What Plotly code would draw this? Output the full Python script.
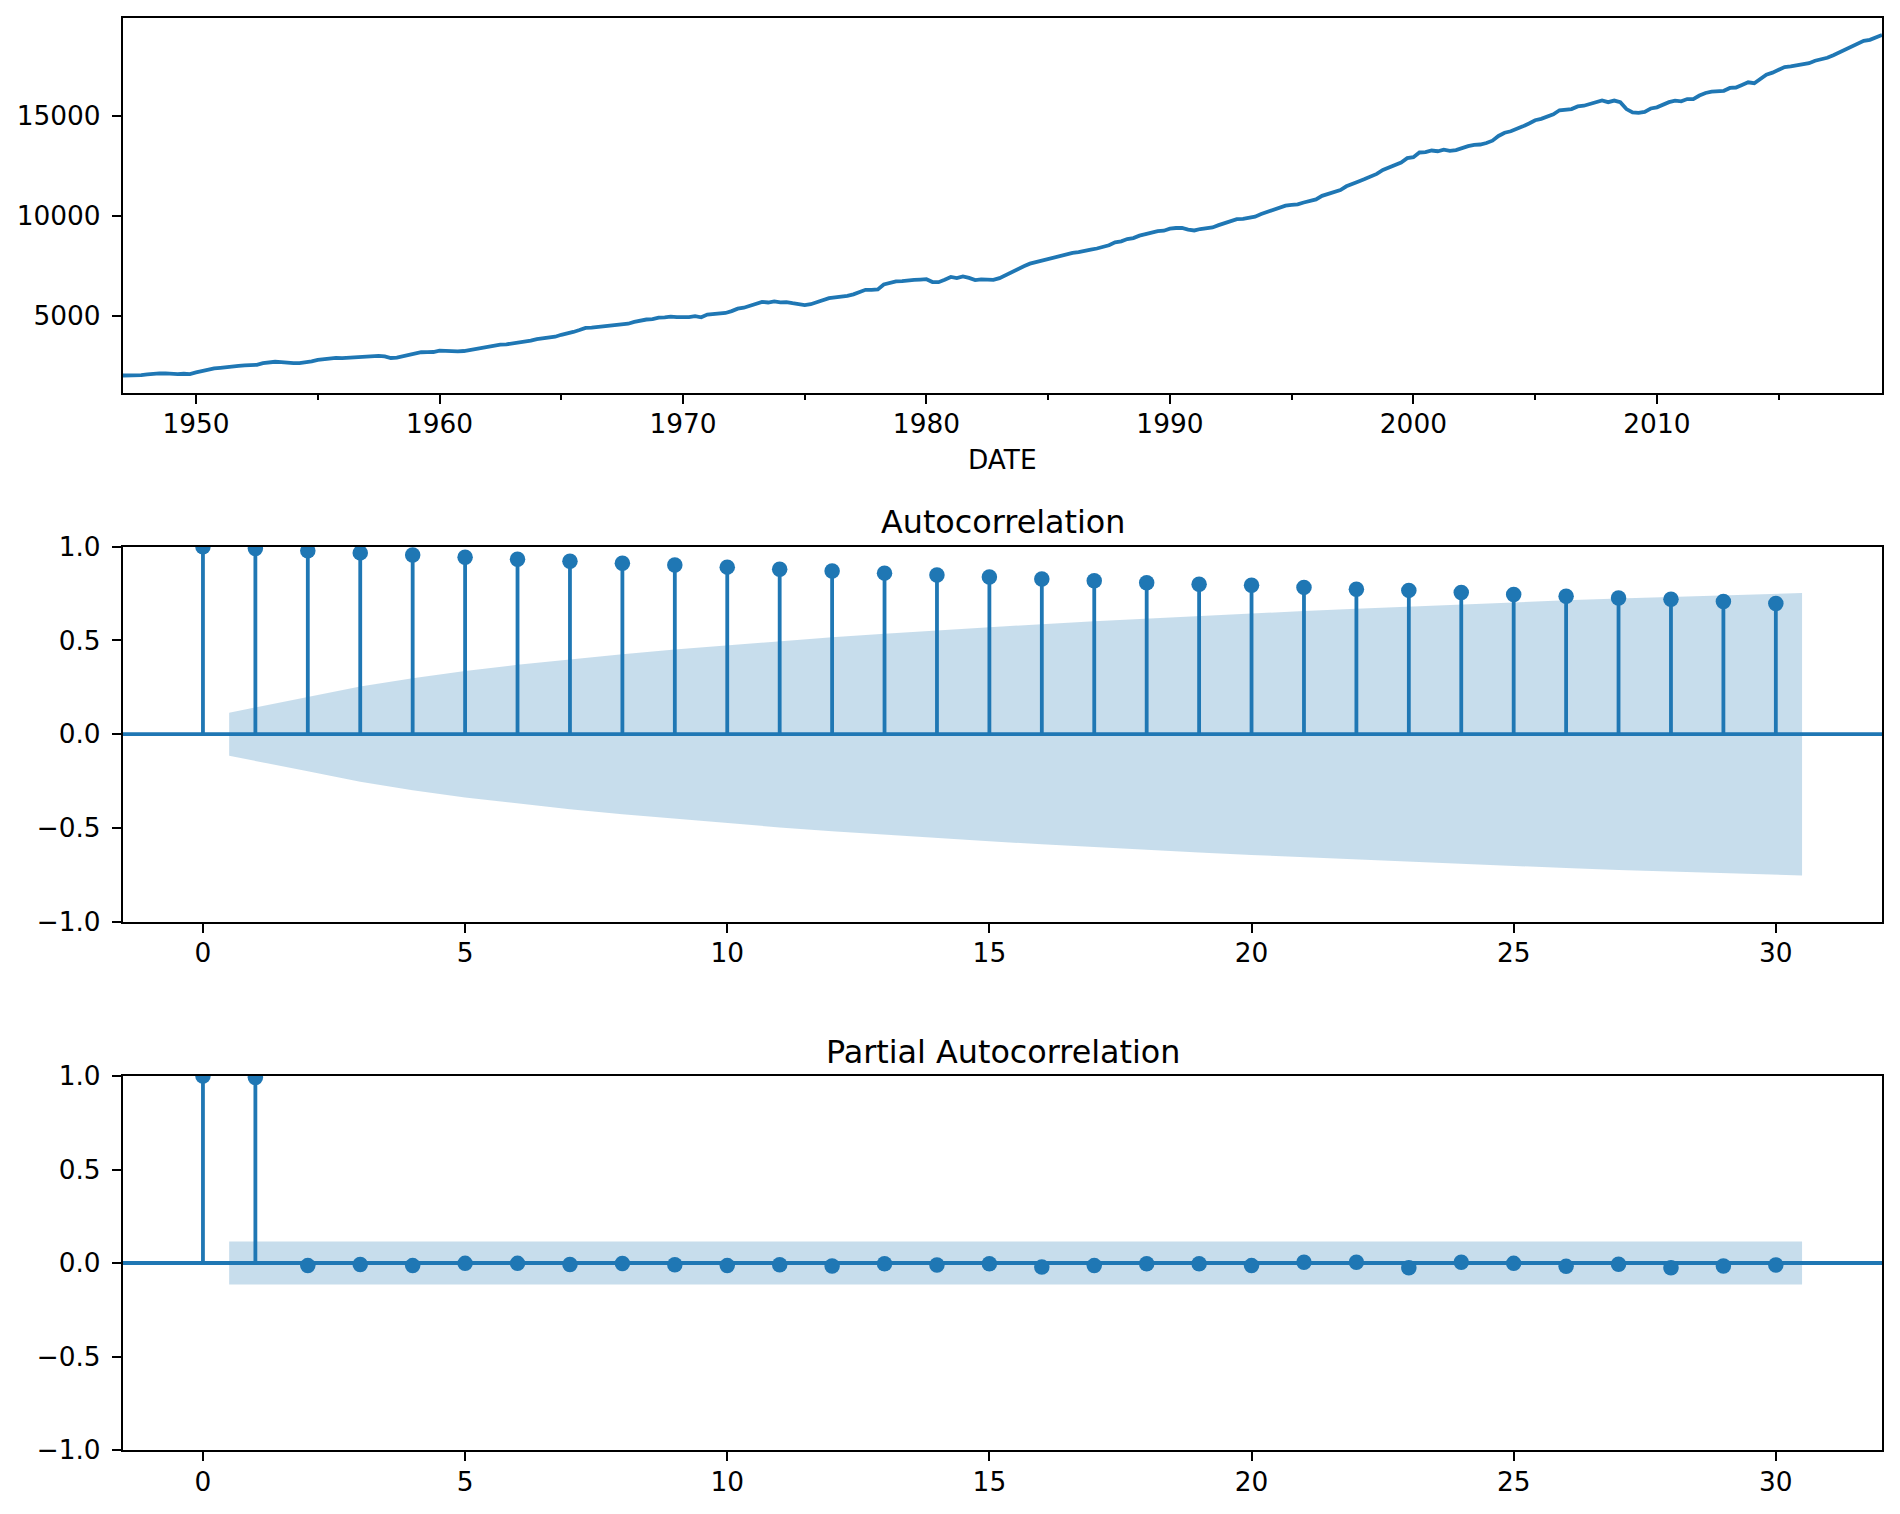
import pandas as pd
import plotly.graph_objects as go

# ---------------- data ----------------
gdp = [
    2033.1, 2027.6, 2023.5, 2055.1,   # 1947
    2086.0, 2120.4, 2132.6, 2134.0,   # 1948
    2105.6, 2098.4, 2120.0, 2102.3,   # 1949
    2184.9, 2251.5, 2338.5, 2383.2,   # 1950
    2415.6, 2457.5, 2508.2, 2513.7,   # 1951
    2540.6, 2546.0, 2564.4, 2648.6,   # 1952
    2697.9, 2718.7, 2703.4, 2662.5,   # 1953
    2649.8, 2652.6, 2683.8, 2735.1,   # 1954
    2813.2, 2858.8, 2897.6, 2914.4,   # 1955
    2903.7, 2927.7, 2925.0, 2973.1,   # 1956
    2992.0, 2985.7, 3014.0, 2983.3,   # 1957
    2906.3, 2925.4, 3000.2, 3083.0,   # 1958
    3121.9, 3192.4, 3194.7, 3203.8,   # 1959
    3275.8, 3258.1, 3274.0, 3232.0,   # 1960
    3253.8, 3309.1, 3372.6, 3438.7,   # 1961
    3500.1, 3531.7, 3575.1, 3586.8,   # 1962
    3625.3, 3666.7, 3747.3, 3771.8,   # 1963
    3851.4, 3893.3, 3954.1, 3966.3,   # 1964
    4062.3, 4113.6, 4205.1, 4301.3,   # 1965
    4406.7, 4421.8, 4459.0, 4495.7,   # 1966
    4535.6, 4538.4, 4581.3, 4615.9,   # 1967
    4709.9, 4788.7, 4825.8, 4844.3,   # 1968
    4920.7, 4935.6, 4968.0, 4943.9,   # 1969
    4936.6, 4943.6, 4989.2, 4935.7,   # 1970
    5069.7, 5097.2, 5139.1, 5151.2,   # 1971
    5245.0, 5365.0, 5415.7, 5506.4,   # 1972
    5642.7, 5704.1, 5674.1, 5727.0,   # 1973
    5678.7, 5692.2, 5638.4, 5616.5,   # 1974
    5548.2, 5587.8, 5683.4, 5759.0,   # 1975
    5889.5, 5932.7, 5965.3, 6008.5,   # 1976
    6079.5, 6197.7, 6309.5, 6309.7,   # 1977
    6329.8, 6574.4, 6640.5, 6729.8,   # 1978
    6741.9, 6749.1, 6799.2, 6816.2,   # 1979
    6837.6, 6696.8, 6688.8, 6813.5,   # 1980
    6947.0, 6895.6, 6978.1, 6902.1,   # 1981
    6794.9, 6825.9, 6799.8, 6802.5,   # 1982
    6892.1, 7048.0, 7189.6, 7339.9,   # 1983
    7483.4, 7612.7, 7686.1, 7749.2,   # 1984
    7824.2, 7893.1, 8013.7, 8073.2,   # 1985
    8148.6, 8185.3, 8263.6, 8308.0,   # 1986
    8369.9, 8460.2, 8533.6, 8680.2,   # 1987
    8725.0, 8839.6, 8891.4, 9009.9,   # 1988
    9101.5, 9170.9, 9238.9, 9257.1,   # 1989
    9358.3, 9392.3, 9398.5, 9312.9,   # 1990
    9269.4, 9341.6, 9388.8, 9421.6,   # 1991
    9534.3, 9637.7, 9732.0, 9834.5,   # 1992
    9850.9, 9908.3, 9955.6, 10091.0,  # 1993
    10188.9, 10327.0, 10387.4, 10506.4,  # 1994
    10543.6, 10575.1, 10665.1, 10737.5,  # 1995
    10817.9, 10998.3, 11096.9, 11212.2,  # 1996
    11284.6, 11472.1, 11615.6, 11715.4,  # 1997
    11832.5, 11942.0, 12091.6, 12287.0,  # 1998
    12403.3, 12498.7, 12662.4, 12877.6,  # 1999
    12924.2, 13160.8, 13178.4, 13260.5,  # 2000
    13222.7, 13300.0, 13244.8, 13280.9,  # 2001
    13397.0, 13478.2, 13538.1, 13559.0,  # 2002
    13634.3, 13751.5, 13985.1, 14145.6,  # 2003
    14221.1, 14329.5, 14465.0, 14609.9,  # 2004
    14771.6, 14839.8, 14972.1, 15066.6,  # 2005
    15267.0, 15302.7, 15326.4, 15456.9,  # 2006
    15493.3, 15582.1, 15666.7, 15761.9,  # 2007
    15671.4, 15752.3, 15667.0, 15328.0,  # 2008
    15155.9, 15134.1, 15189.2, 15356.1,  # 2009
    15415.1, 15557.3, 15671.9, 15750.6,  # 2010
    15712.8, 15825.1, 15820.7, 16004.1,  # 2011
    16129.4, 16198.8, 16220.7, 16239.1,  # 2012
    16382.9, 16403.2, 16531.7, 16663.6,  # 2013
    16616.5, 16841.5, 17047.1, 17143.0,  # 2014
    17305.8, 17422.8, 17462.6, 17503.8,  # 2015
    17554.3, 17616.3, 17741.5, 17807.0,  # 2016
    17885.3, 18015.6, 18160.6, 18324.1,  # 2017
    18438.3, 18598.1, 18732.7, 18783.5,  # 2018
    18927.3, 19021.9,                    # 2019
]
dates = pd.date_range("1947-01-01", periods=len(gdp), freq="QS")

year_ticks = [1950, 1960, 1970, 1980, 1990, 2000, 2010]

lags = list(range(31))
acf_vals = [1.000, 0.990, 0.978, 0.967, 0.956, 0.944, 0.933, 0.922, 0.912, 0.902,
            0.891, 0.880, 0.870, 0.859, 0.849, 0.838, 0.828, 0.818, 0.808, 0.800,
            0.794, 0.783, 0.773, 0.767, 0.756, 0.745, 0.736, 0.726, 0.720, 0.708,
            0.697]
# half-width of the ACF confidence band at lags 1..30
acf_band = [0.115, 0.198, 0.254, 0.299, 0.337, 0.370, 0.400, 0.427, 0.452, 0.475,
            0.497, 0.517, 0.536, 0.554, 0.571, 0.587, 0.603, 0.617, 0.631, 0.644,
            0.657, 0.669, 0.681, 0.692, 0.703, 0.714, 0.724, 0.733, 0.742, 0.753]

pacf_vals = [1.000, 0.992, -0.014, -0.008, -0.014, -0.002, -0.002, -0.008, -0.003, -0.009,
             -0.014, -0.009, -0.016, -0.004, -0.011, -0.004, -0.021, -0.014, -0.004, -0.004,
             -0.014, 0.004, 0.004, -0.025, 0.004, -0.002, -0.018, -0.007, -0.025, -0.016,
             -0.011]
pacf_band = [0.115] * 30

# ---------------- style ----------------
C0 = "#1f77b4"
FILL = "rgba(31,119,180,0.25)"
FONT = "DejaVu Sans"
TICK_FS = 26.4
TITLE_FS = 31.8
LW = 3.8
SPINE = 2.1

fig = go.Figure()

# --- top: time series
fig.add_trace(go.Scatter(x=dates, y=gdp, mode="lines", line=dict(color=C0, width=LW),
                         xaxis="x", yaxis="y", showlegend=False, hoverinfo="skip"))


def stem_panel(vals, band, xa, ya):
    sx, sy = [], []
    for k, v in zip(lags, vals):
        sx += [k, k, None]
        sy += [0, v, None]
    fig.add_trace(go.Scatter(x=sx, y=sy, mode="lines", line=dict(color=C0, width=LW),
                             xaxis=xa, yaxis=ya, showlegend=False, hoverinfo="skip"))
    fig.add_trace(go.Scatter(x=[-1.525, 32.025], y=[0, 0], mode="lines",
                             line=dict(color=C0, width=LW),
                             xaxis=xa, yaxis=ya, showlegend=False, hoverinfo="skip"))
    fig.add_trace(go.Scatter(x=lags, y=vals, mode="markers",
                             marker=dict(color=C0, size=15.5),
                             xaxis=xa, yaxis=ya, showlegend=False, hoverinfo="skip",
                             cliponaxis=True))
    bx = [float(k) for k in lags[1:]]
    bx[0] -= 0.5
    bx[-1] += 0.5
    fx = bx + bx[::-1]
    fy = list(band) + [-b for b in band[::-1]]
    fig.add_trace(go.Scatter(x=fx, y=fy, mode="lines", fill="toself", fillcolor=FILL,
                             line=dict(width=0), xaxis=xa, yaxis=ya,
                             showlegend=False, hoverinfo="skip"))


stem_panel(acf_vals, acf_band, "x2", "y2")
stem_panel(pacf_vals, pacf_band, "x3", "y3")

# ---------------- layout ----------------
W, H = 1900, 1514
ML, MR, MT, MB = 123, 18, 18, 64
PH = H - MT - MB


def py(p):
    return (H - MB - p) / PH


axis_common = dict(showline=True, mirror=True, linecolor="black", linewidth=SPINE,
                   ticks="outside", ticklen=9, tickwidth=SPINE, tickcolor="black",
                   showgrid=False, zeroline=False, automargin=False,
                   tickfont=dict(family=FONT, size=TICK_FS, color="black"))
xax = dict(axis_common, ticklabelstandoff=-2)
yax = dict(axis_common, ticklabelstandoff=6)

span = max(gdp) - min(gdp)
fig.update_layout(
    template="none",
    width=W, height=H,
    margin=dict(l=ML, r=MR, t=MT, b=MB, autoexpand=False),
    paper_bgcolor="white", plot_bgcolor="white",
    font=dict(family=FONT, color="black"),
    xaxis=dict(xax, type="date", domain=[0, 1], anchor="y",
               range=["1947-01-01", "2019-04-01"],
               tickmode="array",
               tickvals=[f"{y}-01-01" for y in year_ticks],
               ticktext=[str(y) for y in year_ticks],
               minor=dict(ticks="outside", ticklen=5, tickwidth=1.6, tickcolor="black",
                          dtick="M60", tick0="1950-01-01", showgrid=False)),
    yaxis=dict(yax, domain=[py(392.7), 1], anchor="x",
               range=[min(gdp) - 0.05 * span, max(gdp) + 0.05 * span],
               tickmode="array", tickvals=[5000, 10000, 15000],
               ticktext=["5000", "10000", "15000"]),
    xaxis2=dict(xax, domain=[0, 1], anchor="y2", range=[-1.525, 32.025],
                tickmode="array", tickvals=[0, 5, 10, 15, 20, 25, 30]),
    yaxis2=dict(yax, domain=[py(921.7), py(546.7)], anchor="x2", range=[-1, 1],
                tickmode="array", tickvals=[-1, -0.5, 0, 0.5, 1], tickformat=".1f"),
    xaxis3=dict(xax, domain=[0, 1], anchor="y3", range=[-1.525, 32.025],
                tickmode="array", tickvals=[0, 5, 10, 15, 20, 25, 30]),
    yaxis3=dict(yax, domain=[0, py(1076)], anchor="x3", range=[-1, 1],
                tickmode="array", tickvals=[-1, -0.5, 0, 0.5, 1], tickformat=".1f"),
    annotations=[
        dict(text="DATE", x=0.5, y=py(460), xref="paper", yref="paper",
             showarrow=False, xanchor="center", yanchor="middle",
             font=dict(family=FONT, size=TICK_FS, color="black")),
        dict(text="Autocorrelation", x=0.5, y=py(521.7), xref="paper", yref="paper",
             showarrow=False, xanchor="center", yanchor="middle",
             font=dict(family=FONT, size=TITLE_FS, color="black")),
        dict(text="Partial Autocorrelation", x=0.5, y=py(1051), xref="paper", yref="paper",
             showarrow=False, xanchor="center", yanchor="middle",
             font=dict(family=FONT, size=TITLE_FS, color="black")),
    ],
)

fig.write_html("out.html",
               config={"displayModeBar": False},
               post_script="document.body.style.margin='0px';document.body.style.overflow='hidden';")
